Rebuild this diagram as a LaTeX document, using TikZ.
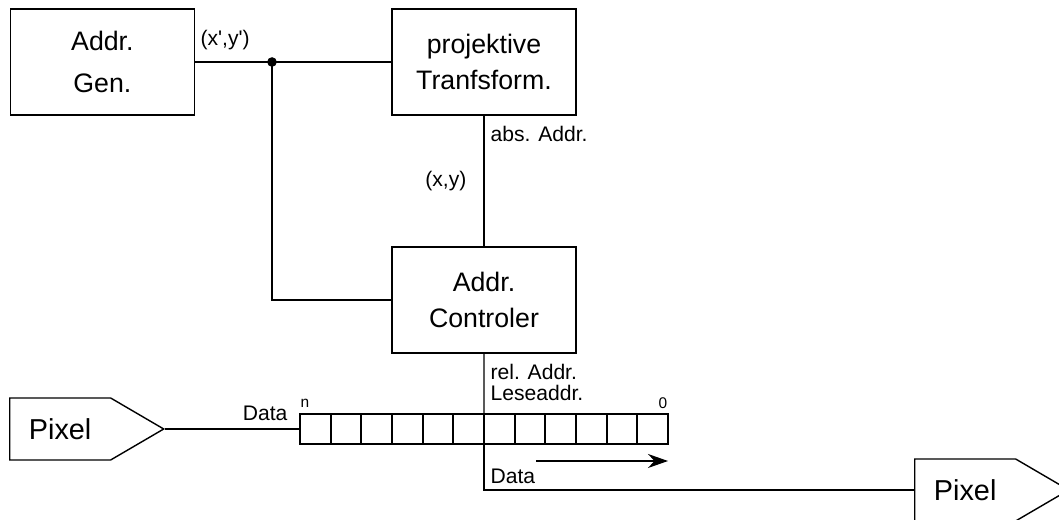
\documentclass[tikz,border=0pt]{standalone}
\usepackage{fontspec}
\setmainfont{Liberation Sans}
\usetikzlibrary{arrows.meta,shapes.symbols}

\begin{document}
\begin{tikzpicture}[
	block/.style={draw, line width=1.2pt, minimum width=4.6cm, minimum height=2.65cm, align=center, font=\fontsize{19}{26}\selectfont},
	cell/.style={draw, line width=1.6pt, minimum width=0.7667cm, minimum height=0.75cm, inner sep=0pt, outer sep=0pt},
	lbl/.style={font=\fontsize{15}{18}\selectfont, inner sep=0pt},
	idx/.style={font=\fontsize{11}{12}\selectfont, inner sep=0pt},
	pixel/.style={draw, line width=1pt, shape=signal, signal to=east, signal pointer angle=60.6, minimum width=3.85cm, minimum height=1.55cm, font=\fontsize{20.5}{24}\selectfont},
	line width=0.9pt
]

\useasboundingbox (0,0) rectangle (26.475,13);

% Bloecke
\node[block, font=\fontsize{19}{30}\selectfont] (gen) at (2.56, 11.45) {Addr.\\Gen.};
\node[block] (trans) at (12.1, 11.45) {projektive\\Tranfsform.};
\node[block] (ctrl)  at (12.1, 5.5)   {Addr.\\Controler};

% Schieberegister
\foreach \i in {0, 1, ..., 11}
{
	\node[cell] (c\i) at (\i * 0.7667 + 7.883, 2.275) {};
}

\node[pixel, anchor=west] (pixin)  at (0.225, 2.275) {Pixel};
\node[pixel, anchor=west] (pixout) at (22.85, 0.75)  {Pixel};

% Verbindungen
\coordinate (junc) at (6.8, 11.45);
\draw (gen.east) -- (trans.west);
\fill (junc) circle (0.12cm);
\draw (junc) |- (ctrl.west);
\draw (trans.south) -- (ctrl.north);
\draw (ctrl.south) -- (c6.north west);
\draw (c6.south west) |- (pixout.west);
\draw (pixin.east) -- (c0.west);

\coordinate (shift) at (13.4, 1.475);
\draw[-{Stealth[length=0.5cm, width=0.35cm]}, line width=0.8pt] (shift) -- (shift -| c11.east);

% Beschriftungen
\node[lbl, anchor=west] (lxy1)  at (5.0, 12.0)    {(x\textquotesingle,y\textquotesingle)};
\node[lbl, anchor=west] (labs)  at (12.25, 9.65)  {abs. Addr.};
\node[lbl, anchor=east] (lxy)   at (11.675, 8.475) {(x,y)};
\node[lbl, anchor=west] (lrel)  at (12.25, 3.7)   {rel. Addr.};
\node[lbl, anchor=west] (lles)  at (12.25, 3.175) {Leseaddr.};
\node[lbl, anchor=east] (ldin)  at (7.2, 2.675)   {Data};
\node[lbl, anchor=west] (ldout) at (12.25, 1.1)   {Data};
\node[idx] (ln) at (7.625, 2.925)  {n};
\node[idx] (l0) at (16.575, 2.925) {0};

\end{tikzpicture}
\end{document}
